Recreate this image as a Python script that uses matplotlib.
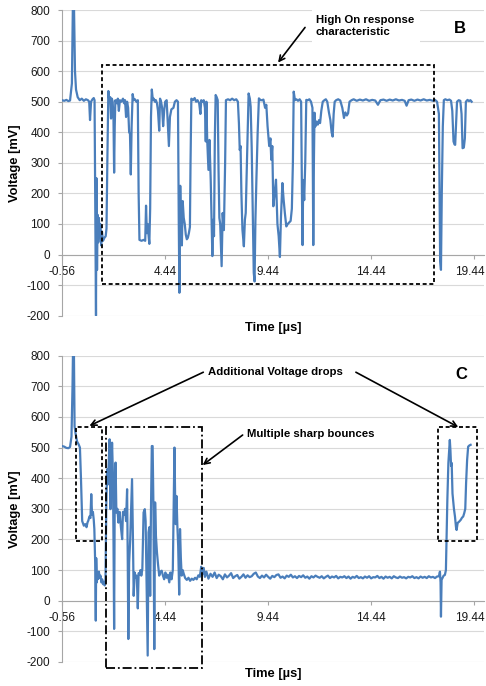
import matplotlib
matplotlib.use('Agg')
import matplotlib.pyplot as plt
import matplotlib.transforms as mtransforms
import numpy as np
from matplotlib.patches import Rectangle

plt.rcParams['font.family'] = ['Liberation Sans', 'DejaVu Sans']
plt.rcParams['axes.unicode_minus'] = False

X_TICKS = [-0.56, 4.44, 9.44, 14.44, 19.44]
X_TICK_LABELS = ['-0.56', '4.44', '9.44', '14.44', '19.44']
Y_TICKS = [-200, -100, 0, 100, 200, 300, 400, 500, 600, 700, 800]

# panel B trace, (time us, voltage mV)
B_TRACE = [
    (-0.56, 505), (-0.45, 503), (-0.35, 506), (-0.25, 502), (-0.17, 504), (-0.08, 560), (-0.03, 830),
    (0.02, 820), (0.07, 600), (0.12, 540), (0.2, 515), (0.3, 505), (0.4, 510), (0.5, 503), (0.6, 508),
    (0.7, 505), (0.76, 500), (0.8, 440), (0.85, 500), (0.92, 508), (0.98, 512), (1.02, 505),
    (1.06, 100), (1.09, -200), (1.11, 250), (1.14, -50), (1.17, 130), (1.2, 40), (1.23, 120),
    (1.27, 60), (1.3, 100), (1.34, 30), (1.38, 75), (1.43, 45), (1.5, 55), (1.56, 60), (1.6, 85),
    (1.64, 300), (1.69, 535), (1.74, 500), (1.78, 515), (1.82, 445), (1.86, 510), (1.9, 500),
    (1.94, 440), (1.97, 268), (2.0, 420), (2.03, 505), (2.1, 495), (2.15, 510), (2.2, 470),
    (2.25, 505), (2.32, 500), (2.4, 510), (2.45, 495), (2.5, 505), (2.55, 450), (2.6, 500),
    (2.65, 480), (2.7, 400), (2.74, 395), (2.78, 262), (2.82, 420), (2.87, 525), (2.92, 505),
    (2.98, 508), (3.05, 500), (3.12, 505), (3.16, 200), (3.2, 48), (3.3, 45), (3.4, 48), (3.48, 45),
    (3.52, 160), (3.56, 70), (3.6, 100), (3.64, 65), (3.68, 35), (3.72, 150), (3.76, 450), (3.8, 540),
    (3.85, 505), (3.9, 510), (3.95, 500), (4.0, 505), (4.05, 495), (4.1, 470), (4.16, 405), (4.2, 510),
    (4.25, 500), (4.3, 480), (4.35, 420), (4.4, 470), (4.45, 500), (4.52, 505), (4.58, 420),
    (4.63, 355), (4.68, 450), (4.75, 475), (4.85, 480), (4.92, 500), (5.0, 505), (5.07, 500),
    (5.11, 100), (5.14, -125), (5.18, 225), (5.22, 80), (5.26, 30), (5.3, 175), (5.35, 120),
    (5.4, 100), (5.45, 65), (5.5, 50), (5.55, 55), (5.6, 70), (5.65, 90), (5.68, 300), (5.72, 510),
    (5.8, 505), (5.88, 512), (5.95, 500), (6.02, 505), (6.1, 495), (6.16, 460), (6.2, 505),
    (6.26, 500), (6.32, 505), (6.38, 480), (6.42, 370), (6.45, 500), (6.49, 375), (6.55, 277),
    (6.6, 375), (6.66, 245), (6.7, 120), (6.74, -5), (6.78, 114), (6.82, 60), (6.86, 380), (6.9, 522),
    (6.95, 515), (7.0, 505), (7.04, 277), (7.08, 120), (7.12, 100), (7.19, -38), (7.24, 136),
    (7.3, 80), (7.36, 300), (7.4, 505), (7.5, 508), (7.6, 505), (7.7, 510), (7.8, 505), (7.9, 508),
    (7.98, 500), (8.03, 429), (8.07, 342), (8.11, 355), (8.15, 201), (8.2, 82), (8.27, 27),
    (8.32, 114), (8.36, 136), (8.42, 299), (8.5, 527), (8.56, 510), (8.6, 484), (8.65, 350),
    (8.7, 136), (8.75, -60), (8.79, -88), (8.83, 110), (8.88, 250), (8.94, 400), (9.0, 511),
    (9.08, 505), (9.15, 505), (9.22, 507), (9.3, 480), (9.36, 490), (9.42, 420), (9.5, 355),
    (9.56, 380), (9.6, 310), (9.65, 355), (9.7, 158), (9.75, 190), (9.83, 245), (9.9, 100),
    (9.96, 60), (10.02, -8), (10.07, 120), (10.14, 234), (10.2, 180), (10.26, 136), (10.33, 92),
    (10.4, 100), (10.47, 105), (10.54, 110), (10.6, 150), (10.65, 300), (10.69, 533), (10.75, 505),
    (10.82, 508), (10.9, 503), (10.98, 508), (11.05, 500), (11.09, 200), (11.12, 31), (11.15, 244),
    (11.2, 178), (11.25, 300), (11.3, 506), (11.38, 505), (11.45, 508), (11.53, 500), (11.6, 480),
    (11.64, 31), (11.67, 300), (11.7, 464), (11.74, 419), (11.8, 435), (11.86, 425), (11.92, 440),
    (11.97, 430), (12.03, 470), (12.1, 500), (12.18, 505), (12.25, 508), (12.32, 500), (12.4, 465),
    (12.47, 440), (12.53, 400), (12.58, 386), (12.63, 460), (12.68, 500), (12.75, 505), (12.85, 508),
    (12.95, 504), (13.05, 480), (13.13, 447), (13.2, 465), (13.27, 455), (13.33, 462), (13.4, 500),
    (13.5, 505), (13.6, 508), (13.75, 503), (13.9, 507), (14.05, 504), (14.2, 508), (14.35, 503),
    (14.5, 506), (14.65, 504), (14.78, 490), (14.9, 505), (15.05, 507), (15.2, 503), (15.35, 507),
    (15.5, 504), (15.65, 508), (15.8, 504), (15.95, 506), (16.08, 503), (16.17, 487), (16.27, 505),
    (16.4, 507), (16.55, 503), (16.7, 507), (16.85, 504), (17.0, 508), (17.15, 504), (17.3, 506),
    (17.45, 503), (17.55, 506), (17.65, 500), (17.74, 460), (17.8, -20), (17.84, -50), (17.88, 200),
    (17.93, 420), (17.98, 505), (18.05, 508), (18.15, 505), (18.25, 507), (18.33, 503), (18.39, 470),
    (18.45, 370), (18.5, 360), (18.53, 359), (18.57, 420), (18.62, 500), (18.7, 505), (18.78, 503),
    (18.84, 460), (18.89, 348), (18.95, 350), (19.0, 380), (19.05, 500), (19.13, 506), (19.2, 502),
    (19.27, 505), (19.33, 500),
]

# panel C: bouncing start, flat noisy middle (sampled every 0.1 us), recovery at the end
C_TRACE_START = [
    (-0.56, 505), (-0.45, 503), (-0.35, 499), (-0.25, 498), (-0.17, 502), (-0.1, 536), (-0.05, 700),
    (-0.02, 850), (0.02, 800), (0.05, 569), (0.1, 545), (0.17, 520), (0.25, 510), (0.31, 500),
    (0.36, 400), (0.42, 260), (0.5, 245), (0.57, 250), (0.63, 240), (0.68, 256), (0.72, 262),
    (0.77, 275), (0.82, 270), (0.86, 348), (0.9, 280), (0.94, 290), (0.98, 265), (1.01, 234),
    (1.05, 125), (1.08, -65), (1.1, 139), (1.13, 60), (1.16, 90), (1.19, 71), (1.23, 95), (1.27, 75),
    (1.31, 82), (1.35, 60), (1.39, 70), (1.43, 54), (1.47, 62), (1.51, 50), (1.55, 65), (1.59, 310),
    (1.63, 429), (1.67, 380), (1.71, 450), (1.75, 527), (1.79, 299), (1.83, 400), (1.87, 516),
    (1.91, 418), (1.94, 200), (1.97, -92), (2.0, 342), (2.04, 451), (2.08, 288), (2.13, 300),
    (2.18, 255), (2.24, 290), (2.3, 240), (2.36, 201), (2.4, 290), (2.45, 280), (2.5, 300),
    (2.55, 260), (2.6, 364), (2.63, 150), (2.66, -125), (2.7, 125), (2.75, 200), (2.8, 310),
    (2.84, 397), (2.88, 220), (2.92, 16), (2.97, 92), (3.02, 75), (3.07, 82), (3.12, -25), (3.16, 90),
    (3.21, 85), (3.25, 100), (3.29, 82), (3.34, 103), (3.4, 288), (3.46, 299), (3.5, 260), (3.55, 38),
    (3.6, -179), (3.64, 223), (3.68, 240), (3.72, 16), (3.76, 300), (3.8, 505), (3.84, 505),
    (3.88, 300), (3.92, -158), (3.96, 321), (4.0, 212), (4.05, 158), (4.1, 120), (4.16, 82),
    (4.22, 95), (4.28, 98), (4.34, 82), (4.4, 70), (4.46, 92), (4.52, 75), (4.58, 85), (4.65, 60),
    (4.7, 92), (4.76, 70), (4.82, 100), (4.86, 300), (4.9, 500), (4.93, 350), (4.96, 250), (5.0, 342),
    (5.04, 245), (5.08, 180), (5.13, 20), (5.17, 234), (5.21, 140), (5.25, 82), (5.3, 100), (5.35, 88),
    (5.42, 74), (5.5, 68), (5.58, 75), (5.66, 65), (5.74, 72), (5.82, 68), (5.9, 75), (5.98, 70),
    (6.06, 83), (6.13, 78), (6.2, 111), (6.25, 85), (6.32, 107), (6.38, 78),
]
C_FLAT_START = 6.45
C_FLAT_STEP = 0.1
C_FLAT_VOLT = [
    95, 72, 88, 78, 92, 74, 85, 80, 70, 86, 76,
    82, 90, 74, 80, 84, 72, 78, 86, 75, 83, 77,
    80, 88, 92, 79, 74, 82, 76, 85, 78, 72, 81,
    77, 84, 86, 75, 79, 73, 82, 78, 85, 76, 80,
    74, 81, 77, 83, 75, 79, 72, 80, 76, 82, 78,
    75, 80, 73, 78, 82, 74, 79, 76, 81, 73, 78,
    76, 80, 74, 79, 72, 78, 75, 81, 74, 77, 73,
    79, 75, 80, 73, 77, 76, 81, 74, 78, 72, 79,
    75, 78, 73, 80, 76, 74, 79, 75, 77, 73, 78,
    76, 80, 74, 77, 73, 79, 75, 78, 74, 80, 76,
    78, 74, 79,
]
C_TRACE_END = [
    (17.74, 80), (17.79, 95), (17.82, 60), (17.84, -52), (17.87, 68), (17.92, 75), (17.97, 82),
    (18.03, 84), (18.08, 100), (18.15, 329), (18.2, 450), (18.27, 525), (18.3, 490), (18.33, 440),
    (18.36, 450), (18.4, 350), (18.43, 329), (18.47, 300), (18.52, 275), (18.57, 240), (18.6, 231),
    (18.65, 254), (18.72, 258), (18.8, 264), (18.86, 271), (18.92, 275), (18.97, 286), (19.02, 300),
    (19.06, 384), (19.11, 460), (19.16, 503), (19.22, 507), (19.28, 509),
]

LINE_BLUE = '#4a7ebb'
GRID = '#d9d9d9'
AXIS = '#a6a6a6'


def style_axes(ax):
    ax.set_xlim(-0.56, 19.93)
    ax.set_ylim(-200, 800)
    ax.set_xticks(X_TICKS)
    ax.set_xticklabels(X_TICK_LABELS)
    ax.set_yticks(Y_TICKS)
    ax.grid(axis='y', color=GRID, lw=0.8)
    ax.set_axisbelow(True)
    for s in ('top', 'right'):
        ax.spines[s].set_visible(False)
    ax.spines['left'].set_color(AXIS)
    ax.spines['bottom'].set_position(('data', 0))
    ax.spines['bottom'].set_color(AXIS)
    ax.tick_params(colors=AXIS, labelcolor='#1a1a1a', labelsize=8.5, length=3, width=0.8)
    ax.tick_params(axis='x', pad=5)
    ax.tick_params(axis='y', pad=5.5)
    # last x label sits right at the figure edge, nudge it in a little
    last = ax.get_xticklabels()[-1]
    shift = mtransforms.ScaledTranslation(-3 / 72, 0, ax.figure.dpi_scale_trans)
    last.set_transform(last.get_transform() + shift)
    ax.text(0.5, -0.039, 'Time [µs]', transform=ax.transAxes, ha='center', va='center',
            fontsize=9.3, fontweight='bold')
    ax.text(-0.111, 0.5, 'Voltage [mV]', transform=ax.transAxes, ha='center', va='center',
            rotation=90, fontsize=9.3, fontweight='bold')


def box(ax, t0, t1, v0, v1, ls):
    ax.add_patch(Rectangle((t0, v0), t1 - t0, v1 - v0, fill=False, ec='k', lw=1.3, ls=ls,
                           clip_on=False, zorder=4))


def arrow(ax, tail, head):
    ax.annotate('', xy=head, xytext=tail,
                arrowprops=dict(arrowstyle='->', lw=1.2, color='k', shrinkA=0, shrinkB=0))


def plot_b(ax):
    t, v = zip(*B_TRACE)
    ax.plot(t, v, color=LINE_BLUE, lw=1.6, zorder=3)
    style_axes(ax)
    box(ax, 1.37, 17.5, -97, 621, (0, (2.2, 1.5)))
    ax.add_patch(Rectangle((11.58, 687), 5.24, 140, fc='white', ec='none', zorder=2))
    ax.text(11.77, 748, 'High On response\ncharacteristic', ha='left', va='center',
            fontsize=8.2, fontweight='bold', linespacing=1.35, zorder=5)
    arrow(ax, (11.24, 743), (9.93, 628))
    ax.text(18.76, 739, 'B', ha='center', va='center', fontsize=12, fontweight='bold')


def plot_c(ax):
    t_start, v_start = zip(*C_TRACE_START)
    t_end, v_end = zip(*C_TRACE_END)
    t_flat = C_FLAT_START + C_FLAT_STEP * np.arange(len(C_FLAT_VOLT))
    t = np.concatenate([t_start, t_flat, t_end])
    v = np.concatenate([v_start, C_FLAT_VOLT, v_end])
    ax.plot(t, v, color=LINE_BLUE, lw=1.6, zorder=3)
    style_axes(ax)
    box(ax, 0.12, 1.37, 195, 567, (0, (2.2, 1.5)))
    box(ax, 1.58, 6.25, -221, 567, (0, (5, 1.6, 1, 1.6)))
    box(ax, 17.71, 19.6, 195, 567, (0, (2.2, 1.5)))
    ax.text(6.53, 747, 'Additional Voltage drops', ha='left', va='center', fontsize=8.2,
            fontweight='bold', zorder=5)
    arrow(ax, (6.3, 746), (0.77, 571))
    arrow(ax, (13.71, 746), (18.68, 567))
    ax.text(8.42, 545, 'Multiple sharp bounces', ha='left', va='center', fontsize=8.2,
            fontweight='bold', zorder=5)
    arrow(ax, (8.21, 541), (6.27, 443))
    ax.text(18.81, 740, 'C', ha='center', va='center', fontsize=12, fontweight='bold')


def main():
    fig = plt.figure(figsize=(4.86, 6.86), dpi=100)
    ax_b = fig.add_axes([0.1276, 0.5398, 0.8683, 0.4456])
    ax_c = fig.add_axes([0.1276, 0.035, 0.8683, 0.4465])
    plot_b(ax_b)
    plot_c(ax_c)
    fig.savefig('out.png', dpi=100)


if __name__ == '__main__':
    main()
